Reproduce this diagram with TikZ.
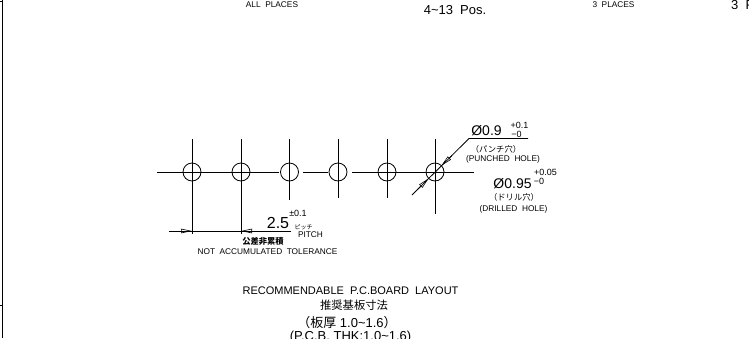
\documentclass[tikz,border=0pt]{standalone}
\usepackage{fontspec}
\usetikzlibrary{arrows.meta}
\setmainfont{Liberation Sans}
\newfontfamily\cjk{Noto Sans CJK JP}
\newcommand{\dsp}{\hspace{0.55em}}
\tikzset{
  cad/.style={draw=black,line width=0.8pt},
  tipped/.style={cad,-{Triangle[open,length=11pt,width=4.5pt,line width=0.6pt]}},
  hole/.style={circle,draw=black,line width=0.8pt,minimum size=18pt,inner sep=0pt},
  lbl/.style={inner sep=0pt,text=black,font=\fontsize{8.3}{9}\selectfont},
  tiny/.style={inner sep=0pt,text=black,font=\fontsize{9}{10}\selectfont},
  title/.style={inner sep=0pt,text=black,font=\fontsize{11}{12}\selectfont},
  sub/.style={inner sep=0pt,text=black,font=\fontsize{13}{14}\selectfont},
  dim/.style={inner sep=0pt,text=black,font=\fontsize{14}{15}\selectfont},
  jp/.style={inner sep=0pt,text=black,font=\cjk\fontsize{8.3}{9}\selectfont},
  jpsmall/.style={inner sep=0pt,text=black,font=\cjk\fontsize{6}{6}\selectfont},
  jplarge/.style={inner sep=0pt,text=black,font=\cjk\fontsize{11.3}{12}\selectfont},
}
\begin{document}
\begin{tikzpicture}[x=1pt,y=-1pt]
\useasboundingbox (0,0) rectangle (749,338);
% frame
\coordinate (fa) at (2.5,0); \coordinate (fb) at (2.5,338);
\coordinate (ta) at (0,305); \coordinate (tb) at (2.5,305);
\coordinate (tc) at (0,1); \coordinate (td) at (2.5,1);
\draw[cad] (fa) -- (fb); \draw[cad] (ta) -- (tb); \draw[cad] (tc) -- (td);
% holes
\foreach \n/\x in {1/192,2/241,3/289.5,4/338,5/387,6/435}{
  \node[hole] (h\n) at (\x,172) {};
}
\coordinate (l0) at (157,172); \coordinate (l1) at (279,172);
\coordinate (l2) at (303,172); \coordinate (l3) at (328,172);
\coordinate (l4) at (352,172); \coordinate (l7) at (474,172);
\draw[cad] (l0) -- (l1); \draw[cad] (l2) -- (l3); \draw[cad] (l4) -- (l7);
\foreach \n/\t/\b in {1/139/234,2/139/234,3/139/200,4/139/198,5/139/198,6/139/214}{
  \coordinate (vt\n) at (h\n |- 0,\t); \coordinate (vb\n) at (h\n |- 0,\b);
  \draw[cad] (vt\n) -- (vb\n);
}
% pitch dim
\coordinate (da) at (169,231); \coordinate (db) at (291,231);
\draw[cad] (da) -- (db);
\coordinate (a1) at (192,231); \coordinate (a2) at (241,231);
\coordinate (a1s) at (178,231); \coordinate (a2s) at (255,231);
\draw[tipped] (a1s) -- (a1);
\draw[tipped] (a2s) -- (a2);
\node[inner sep=0pt,font=\fontsize{16}{17}\selectfont] (p25) at (278,223) {2.5};
\node[tiny] (ptol) at (298,213) {±0.1};
\node[jpsmall] (pjp) at (303.5,227) {ピッチ};
\node[inner sep=0pt,font=\fontsize{8.3}{9}\selectfont] (ppitch) at (310.5,235) {PITCH};
\node[jp,font=\cjk\bfseries\fontsize{8.3}{9}\selectfont] (nj) at (263,241) {公差非累積};
\node[lbl] (nt) at (267.5,251.5) {NOT\dsp ACCUMULATED\dsp TOLERANCE};
% leader
\coordinate (ls) at (528,138.5); \coordinate (lk) at (469,138.5); \coordinate (lb) at (412,195);
\coordinate (t1a) at (452,155.5); \coordinate (t1b) at (441.4,165.6);
\coordinate (t2a) at (418,189); \coordinate (t2b) at (428.6,178.4);
\draw[cad] (ls) -- (lk) -- (lb);
\draw[tipped] (t1a) -- (t1b);
\draw[tipped] (t2a) -- (t2b);
\node[dim] (d09) at (486.5,130.5) {Ø0.9};
\node[tiny] (t1) at (519.5,125) {+0.1};
\node[tiny] (t2) at (516.5,134) {−0};
\node[jp] (pj) at (496,149.5) {（パンチ穴）};
\node[lbl] (ph) at (503,159.5) {(PUNCHED\dsp HOLE)};
\node[dim] (d095) at (512.5,184) {Ø0.95};
\node[tiny] (t3) at (545.5,172) {+0.05};
\node[tiny] (t4) at (539,181) {−0};
\node[jp] (dj) at (514,197) {（ドリル穴）};
\node[lbl] (dh) at (513.5,209) {(DRILLED\dsp HOLE)};
% title
\node[title] (tt) at (350.5,291) {RECOMMENDABLE\dsp P.C.BOARD\dsp LAYOUT};
\node[jplarge] (tj) at (354,305) {推奨基板寸法};
\node[sub] (th) at (347,323) {{\cjk （板厚} 1.0\textasciitilde1.6{\cjk ）}};
\node[sub] (tp) at (350.5,337) {(P.C.B. THK:1.0\textasciitilde1.6)};
% top
\node[lbl] (top1) at (272,5) {ALL\dsp PLACES};
\node[sub] (top2) at (455,10) {4\textasciitilde13\dsp Pos.};
\node[lbl] (top3) at (613.5,5) {3\dsp PLACES};
\node[sub,anchor=west] (top4) at (731,5) {3\dsp P};
\end{tikzpicture}
\end{document}
